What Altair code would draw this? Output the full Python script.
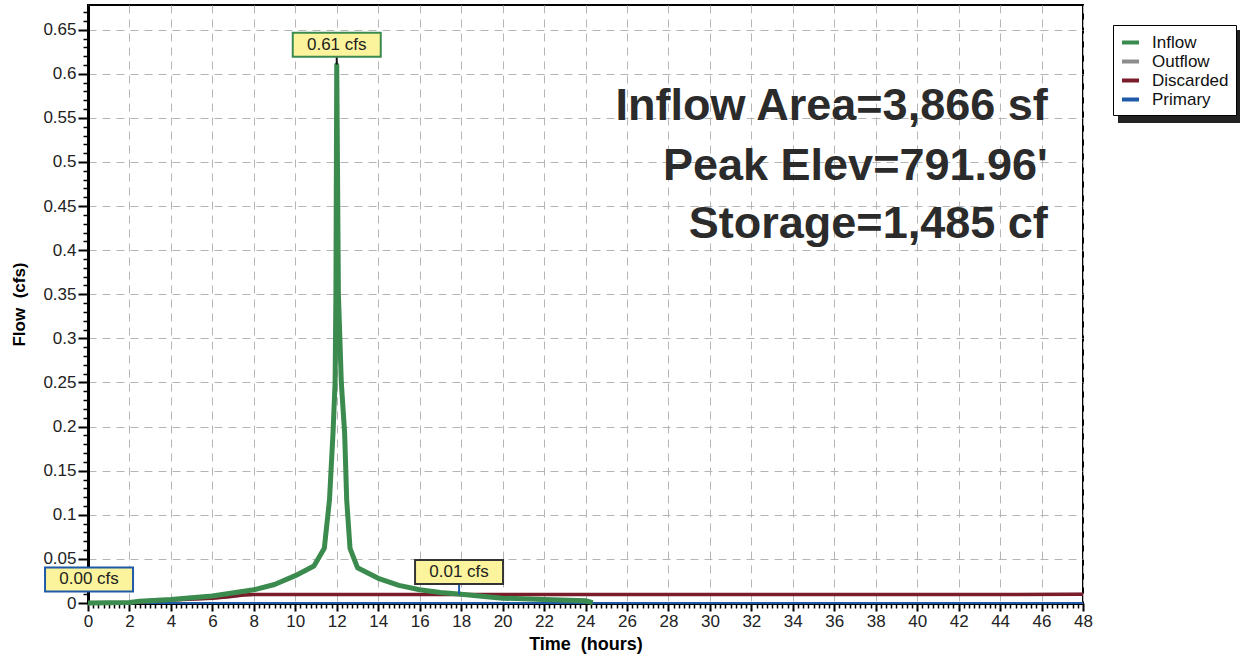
import altair as alt
import pandas as pd

# ---------------- data ----------------
series_names = ["Inflow", "Outflow", "Discarded", "Primary"]
series_colors = ["#3b8a4e", "#8c8c8c", "#7a1c2a", "#1f5aa8"]

inflow_t = [0, 2, 2.5, 4, 6, 8, 9, 10, 10.9, 11.4, 11.65, 11.82, 11.92, 11.96, 12.0,
            12.08, 12.22, 12.38, 12.48, 12.64, 13.0, 14, 15, 16, 17, 18, 20, 22, 24, 24.35]
inflow_v = [0, 0.0005, 0.002, 0.004, 0.008, 0.015, 0.021, 0.031, 0.042, 0.062, 0.117, 0.193, 0.25, 0.35, 0.61,
            0.35, 0.25, 0.193, 0.117, 0.062, 0.040, 0.028, 0.020, 0.015, 0.012, 0.010, 0.0055, 0.004, 0.0025, 0.0005]

discarded_t = [0, 2, 3, 4, 6, 6.8, 7.5, 8, 20, 48]
discarded_v = [0, 0.0005, 0.002, 0.0034, 0.0053, 0.007, 0.009, 0.0095, 0.0095, 0.0098]

outflow_t = [0, 2, 3, 4, 6, 6.8, 7.5, 8, 20, 48]
outflow_v = [0, 0.0005, 0.002, 0.0034, 0.0053, 0.007, 0.009, 0.0095, 0.0095, 0.0098]

primary_t = [0, 48]
primary_v = [0, 0]

x_major = [0, 2, 4, 6, 8, 10, 12, 14, 16, 18, 20, 22, 24, 26, 28, 30, 32, 34, 36, 38, 40, 42, 44, 46, 48]
y_major = [0, 0.05, 0.1, 0.15, 0.2, 0.25, 0.3, 0.35, 0.4, 0.45, 0.5, 0.55, 0.6, 0.65]
x_minor = [i * 0.25 for i in range(0, 193) if i % 8 != 0]
y_minor = [i / 100 for i in range(0, 68) if i % 5 != 0]

# peak labels
label_text = ["0.61 cfs", "0.00 cfs", "0.01 cfs"]
label_x = [12.0, 0.05, 17.9]
label_y = [0.633, 0.0267, 0.0352]
label_border = ["#3b8a4e", "#1f5aa8", "#333333"]

conn_x = [12.0, 17.9]
conn_y = [0.6195, 0.0227]
conn_y2 = [0.6105, 0.0095]
conn_color = ["#111111", "#1f5aa8"]

ann_text = ["Inflow Area=3,866 sf", "Peak Elev=791.96'", "Storage=1,485 cf"]
ann_x = [46.3, 46.3, 46.3]
ann_y = [0.548, 0.480, 0.414]

FONT = "Liberation Sans"

# ---------------- frames ----------------
def sdf(name, t, v):
    return pd.DataFrame({"t": t, "v": v, "series": name})

df_inflow = sdf("Inflow", inflow_t, inflow_v)
df_outflow = sdf("Outflow", outflow_t, outflow_v)
df_disc = sdf("Discarded", discarded_t, discarded_v)
df_prim = sdf("Primary", primary_t, primary_v)

labels_df = pd.DataFrame({"text": label_text, "x": label_x, "y": label_y, "border": label_border})
conn_df = pd.DataFrame({"x": conn_x, "y": conn_y, "y2": conn_y2, "c": conn_color})
ann_df = pd.DataFrame({"text": ann_text, "x": ann_x, "y": ann_y})

x_scale = alt.Scale(domain=[0, 48], nice=False, zero=False)
y_scale = alt.Scale(domain=[0, 0.678], nice=False)
color_scale = alt.Scale(domain=series_names, range=series_colors)

legend = alt.Legend(
    title=None, orient="none", legendX=1025, legendY=20,
    fillColor="white", strokeColor="black", padding=7,
    labelFont=FONT, labelFontSize=17, labelColor="#111",
    symbolType="stroke", symbolSize=289, symbolStrokeWidth=4,
    rowPadding=0, labelOffset=11, zindex=1,
)

x_axis_major = alt.Axis(
    values=x_major, format="d", title="Time\u00a0 (hours)", orient="bottom",
    labelFont=FONT, labelFontSize=17, labelColor="#222", labelPadding=2, labelFlush=False,
    tickSize=8, tickWidth=2, tickColor="black",
    domainColor="black", domainWidth=3,
    grid=True, gridDash=[8, 6], gridColor="#b5b5b5", gridWidth=1,
    titleFont=FONT, titleFontSize=18, titleFontWeight="bold", titleColor="black", titlePadding=6,
)
y_axis_major = alt.Axis(
    values=y_major, format="~g", title="Flow\u00a0 (cfs)", orient="left",
    labelFont=FONT, labelFontSize=17, labelColor="#222", labelPadding=2, labelFlush=False,
    tickSize=10, tickWidth=2, tickColor="black",
    domainColor="black", domainWidth=3,
    grid=True, gridDash=[8, 6], gridColor="#b5b5b5", gridWidth=1,
    titleFont=FONT, titleFontSize=17, titleFontWeight="bold", titleColor="black", titlePadding=14,
)
x_axis_minor = alt.Axis(values=x_minor, orient="bottom", labels=False, title=None, grid=False,
                        domain=False, tickSize=5, tickWidth=1.5, tickColor="black")
y_axis_minor = alt.Axis(values=y_minor, orient="left", labels=False, title=None, grid=False,
                        domain=False, tickSize=5, tickWidth=1.5, tickColor="black")


def line_layer(df, width, xaxis=None, yaxis=None):
    return alt.Chart(df).mark_line(strokeWidth=width, strokeJoin="round").encode(
        x=alt.X("t:Q", scale=x_scale, axis=xaxis),
        y=alt.Y("v:Q", scale=y_scale, axis=yaxis),
        color=alt.Color("series:N", scale=color_scale, legend=legend),
    )

primary_layer = line_layer(df_prim, 2, x_axis_minor, y_axis_minor)
outflow_layer = line_layer(df_outflow, 3)
disc_layer = line_layer(df_disc, 3.5)
inflow_layer = line_layer(df_inflow, 5, x_axis_major, y_axis_major)

ann_layer = alt.Chart(ann_df).mark_text(
    align="right", baseline="alphabetic", font=FONT, fontSize=45, fontWeight="bold", color="#2b2b2b"
).encode(x=alt.X("x:Q", scale=x_scale, axis=None), y=alt.Y("y:Q", scale=y_scale, axis=None), text="text:N")

conn_layer = alt.Chart(conn_df).mark_rule(strokeWidth=2).encode(
    x=alt.X("x:Q", scale=x_scale, axis=None),
    y=alt.Y("y:Q", scale=y_scale, axis=None),
    y2="y2:Q",
    color=alt.Color("c:N", scale=None, legend=None),
)

box_layer = alt.Chart(labels_df).mark_rect(width=88, height=24, fill="#fbf49c", strokeWidth=2).encode(
    x=alt.X("x:Q", scale=x_scale, axis=None),
    y=alt.Y("y:Q", scale=y_scale, axis=None),
    stroke=alt.Stroke("border:N", scale=None, legend=None),
)
box_text = alt.Chart(labels_df).mark_text(font=FONT, fontSize=17, color="#222", baseline="middle").encode(
    x=alt.X("x:Q", scale=x_scale, axis=None),
    y=alt.Y("y:Q", scale=y_scale, axis=None),
    text="text:N",
)

shadow = alt.Chart(alt.Data(values=[{"a": 1}])).mark_rect(color="#222").encode(
    x=alt.value(1030), x2=alt.value(1152), y=alt.value(25), y2=alt.value(118)
)

chart = alt.layer(
    shadow, primary_layer, outflow_layer, disc_layer, inflow_layer,
    ann_layer, conn_layer, box_layer, box_text,
).resolve_axis(x="independent", y="independent").properties(
    width=995, height=598,
    padding={"left": 88, "top": 5, "right": 159, "bottom": 58},
    autosize=alt.AutoSizeParams(type="none"),
    background="white",
).configure_view(stroke="black", strokeWidth=2)

chart.save("out.html", embed_options={"renderer": "svg", "actions": False})
